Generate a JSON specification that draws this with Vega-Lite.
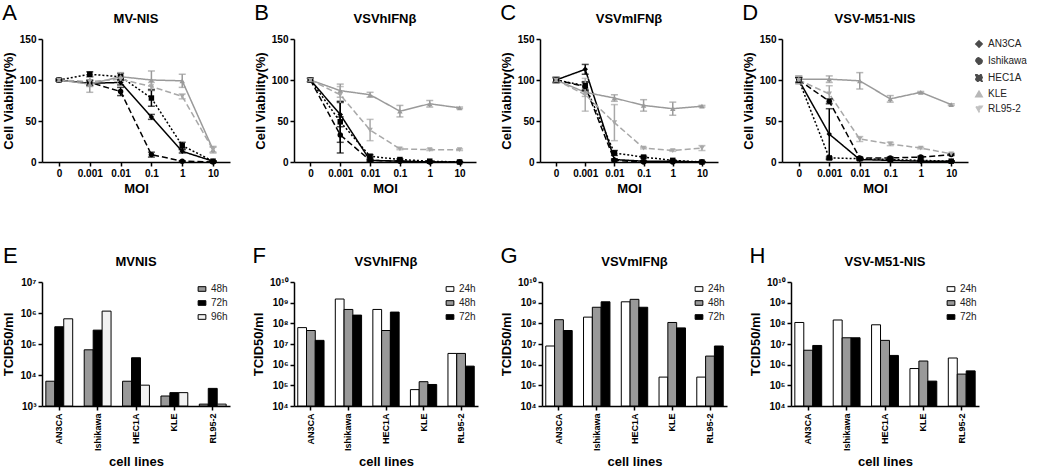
{
  "$schema": "https://vega.github.io/schema/vega-lite/v6.json",
  "background": "white",
  "padding": {"left": 2, "top": 2, "right": 0, "bottom": 0},
  "config": {
    "font": "Liberation Sans",
    "view": {"stroke": null},
    "axis": {"grid": false, "domainColor": "black", "tickColor": "black", "labelColor": "black", "titleColor": "black", "domainWidth": 1.5, "tickWidth": 1.5, "tickSize": 4, "labelFontWeight": "bold", "labelFontSize": 10, "titleFontWeight": "bold", "titleFontSize": 13},
    "title": {"fontSize": 13, "fontWeight": "bold", "color": "black", "offset": 8},
    "legend": {"labelFontSize": 10, "labelColor": "#222"}
  },
  "datasets": {
    "mvnis": [
      {"moi": "0", "line": "AN3CA", "v": 100, "e": 1}, {"moi": "0.001", "line": "AN3CA", "v": 96, "e": 3}, {"moi": "0.01", "line": "AN3CA", "v": 97, "e": 3}, {"moi": "0.1", "line": "AN3CA", "v": 55, "e": 3}, {"moi": "1", "line": "AN3CA", "v": 13, "e": 2}, {"moi": "10", "line": "AN3CA", "v": 1, "e": 0.5},
      {"moi": "0", "line": "Ishikawa", "v": 100, "e": 1}, {"moi": "0.001", "line": "Ishikawa", "v": 97, "e": 3}, {"moi": "0.01", "line": "Ishikawa", "v": 86, "e": 5}, {"moi": "0.1", "line": "Ishikawa", "v": 9, "e": 3}, {"moi": "1", "line": "Ishikawa", "v": 1, "e": 0.5}, {"moi": "10", "line": "Ishikawa", "v": 0, "e": 0.5},
      {"moi": "0", "line": "HEC1A", "v": 100, "e": 1}, {"moi": "0.001", "line": "HEC1A", "v": 107, "e": 3}, {"moi": "0.01", "line": "HEC1A", "v": 104, "e": 4}, {"moi": "0.1", "line": "HEC1A", "v": 78, "e": 10}, {"moi": "1", "line": "HEC1A", "v": 20, "e": 4}, {"moi": "10", "line": "HEC1A", "v": 1, "e": 0.5},
      {"moi": "0", "line": "KLE", "v": 100, "e": 1}, {"moi": "0.001", "line": "KLE", "v": 95, "e": 10}, {"moi": "0.01", "line": "KLE", "v": 104, "e": 5}, {"moi": "0.1", "line": "KLE", "v": 100, "e": 11}, {"moi": "1", "line": "KLE", "v": 99, "e": 8}, {"moi": "10", "line": "KLE", "v": 15, "e": 4},
      {"moi": "0", "line": "RL95-2", "v": 100, "e": 1}, {"moi": "0.001", "line": "RL95-2", "v": 98, "e": 6}, {"moi": "0.01", "line": "RL95-2", "v": 101, "e": 4}, {"moi": "0.1", "line": "RL95-2", "v": 92, "e": 5}, {"moi": "1", "line": "RL95-2", "v": 80, "e": 3}, {"moi": "10", "line": "RL95-2", "v": 15, "e": 3}
    ],
    "vsvh": [
      {"moi": "0", "line": "AN3CA", "v": 100, "e": 2}, {"moi": "0.001", "line": "AN3CA", "v": 58, "e": 15}, {"moi": "0.01", "line": "AN3CA", "v": 2, "e": 1}, {"moi": "0.1", "line": "AN3CA", "v": 1, "e": 0.5}, {"moi": "1", "line": "AN3CA", "v": 0, "e": 0.5}, {"moi": "10", "line": "AN3CA", "v": 0, "e": 0.5},
      {"moi": "0", "line": "Ishikawa", "v": 100, "e": 2}, {"moi": "0.001", "line": "Ishikawa", "v": 33, "e": 22}, {"moi": "0.01", "line": "Ishikawa", "v": 2, "e": 1}, {"moi": "0.1", "line": "Ishikawa", "v": 1, "e": 0.5}, {"moi": "1", "line": "Ishikawa", "v": 0, "e": 0.5}, {"moi": "10", "line": "Ishikawa", "v": 0, "e": 0.5},
      {"moi": "0", "line": "HEC1A", "v": 100, "e": 2}, {"moi": "0.001", "line": "HEC1A", "v": 49, "e": 25}, {"moi": "0.01", "line": "HEC1A", "v": 7, "e": 2}, {"moi": "0.1", "line": "HEC1A", "v": 3, "e": 1}, {"moi": "1", "line": "HEC1A", "v": 1, "e": 0.5}, {"moi": "10", "line": "HEC1A", "v": 0, "e": 0.5},
      {"moi": "0", "line": "KLE", "v": 100, "e": 2}, {"moi": "0.001", "line": "KLE", "v": 87, "e": 8}, {"moi": "0.01", "line": "KLE", "v": 82, "e": 3}, {"moi": "0.1", "line": "KLE", "v": 62, "e": 7}, {"moi": "1", "line": "KLE", "v": 71, "e": 4}, {"moi": "10", "line": "KLE", "v": 66, "e": 1},
      {"moi": "0", "line": "RL95-2", "v": 100, "e": 2}, {"moi": "0.001", "line": "RL95-2", "v": 82, "e": 10}, {"moi": "0.01", "line": "RL95-2", "v": 39, "e": 13}, {"moi": "0.1", "line": "RL95-2", "v": 16, "e": 1}, {"moi": "1", "line": "RL95-2", "v": 15, "e": 1}, {"moi": "10", "line": "RL95-2", "v": 15, "e": 1}
    ],
    "vsvm": [
      {"moi": "0", "line": "AN3CA", "v": 100, "e": 3}, {"moi": "0.001", "line": "AN3CA", "v": 113, "e": 6}, {"moi": "0.01", "line": "AN3CA", "v": 3, "e": 1}, {"moi": "0.1", "line": "AN3CA", "v": 1, "e": 0.5}, {"moi": "1", "line": "AN3CA", "v": 1, "e": 0.5}, {"moi": "10", "line": "AN3CA", "v": 0, "e": 0.5},
      {"moi": "0", "line": "Ishikawa", "v": 100, "e": 3}, {"moi": "0.001", "line": "Ishikawa", "v": 92, "e": 5}, {"moi": "0.01", "line": "Ishikawa", "v": 2, "e": 1}, {"moi": "0.1", "line": "Ishikawa", "v": 0, "e": 0.5}, {"moi": "1", "line": "Ishikawa", "v": 0, "e": 0.5}, {"moi": "10", "line": "Ishikawa", "v": 0, "e": 0.5},
      {"moi": "0", "line": "HEC1A", "v": 100, "e": 3}, {"moi": "0.001", "line": "HEC1A", "v": 93, "e": 5}, {"moi": "0.01", "line": "HEC1A", "v": 11, "e": 3}, {"moi": "0.1", "line": "HEC1A", "v": 6, "e": 1}, {"moi": "1", "line": "HEC1A", "v": 2, "e": 0.5}, {"moi": "10", "line": "HEC1A", "v": 0, "e": 0.5},
      {"moi": "0", "line": "KLE", "v": 100, "e": 3}, {"moi": "0.001", "line": "KLE", "v": 85, "e": 5}, {"moi": "0.01", "line": "KLE", "v": 78, "e": 4}, {"moi": "0.1", "line": "KLE", "v": 69, "e": 7}, {"moi": "1", "line": "KLE", "v": 65, "e": 8}, {"moi": "10", "line": "KLE", "v": 68, "e": 1},
      {"moi": "0", "line": "RL95-2", "v": 100, "e": 3}, {"moi": "0.001", "line": "RL95-2", "v": 82, "e": 20}, {"moi": "0.01", "line": "RL95-2", "v": 48, "e": 22}, {"moi": "0.1", "line": "RL95-2", "v": 17, "e": 1}, {"moi": "1", "line": "RL95-2", "v": 14, "e": 1}, {"moi": "10", "line": "RL95-2", "v": 17, "e": 3}
    ],
    "vsvm51": [
      {"moi": "0", "line": "AN3CA", "v": 100, "e": 3}, {"moi": "0.001", "line": "AN3CA", "v": 34, "e": 31}, {"moi": "0.01", "line": "AN3CA", "v": 3, "e": 1}, {"moi": "0.1", "line": "AN3CA", "v": 2, "e": 0.5}, {"moi": "1", "line": "AN3CA", "v": 1, "e": 0.5}, {"moi": "10", "line": "AN3CA", "v": 1, "e": 0.5},
      {"moi": "0", "line": "Ishikawa", "v": 100, "e": 3}, {"moi": "0.001", "line": "Ishikawa", "v": 74, "e": 3}, {"moi": "0.01", "line": "Ishikawa", "v": 5, "e": 1}, {"moi": "0.1", "line": "Ishikawa", "v": 5, "e": 1}, {"moi": "1", "line": "Ishikawa", "v": 6, "e": 1}, {"moi": "10", "line": "Ishikawa", "v": 9, "e": 1},
      {"moi": "0", "line": "HEC1A", "v": 100, "e": 3}, {"moi": "0.001", "line": "HEC1A", "v": 5, "e": 1}, {"moi": "0.01", "line": "HEC1A", "v": 4, "e": 1}, {"moi": "0.1", "line": "HEC1A", "v": 3, "e": 0.5}, {"moi": "1", "line": "HEC1A", "v": 2, "e": 0.5}, {"moi": "10", "line": "HEC1A", "v": 1, "e": 0.5},
      {"moi": "0", "line": "KLE", "v": 101, "e": 4}, {"moi": "0.001", "line": "KLE", "v": 101, "e": 4}, {"moi": "0.01", "line": "KLE", "v": 99, "e": 10}, {"moi": "0.1", "line": "KLE", "v": 77, "e": 4}, {"moi": "1", "line": "KLE", "v": 85, "e": 1}, {"moi": "10", "line": "KLE", "v": 70, "e": 1},
      {"moi": "0", "line": "RL95-2", "v": 100, "e": 5}, {"moi": "0.001", "line": "RL95-2", "v": 83, "e": 10}, {"moi": "0.01", "line": "RL95-2", "v": 28, "e": 3}, {"moi": "0.1", "line": "RL95-2", "v": 22, "e": 2}, {"moi": "1", "line": "RL95-2", "v": 17, "e": 1}, {"moi": "10", "line": "RL95-2", "v": 10, "e": 1}
    ],
    "e": [
      {"cell": "AN3CA", "t": "48h", "v": 6300}, {"cell": "AN3CA", "t": "72h", "v": 360000}, {"cell": "AN3CA", "t": "96h", "v": 650000},
      {"cell": "Ishikawa", "t": "48h", "v": 65000}, {"cell": "Ishikawa", "t": "72h", "v": 280000}, {"cell": "Ishikawa", "t": "96h", "v": 1150000},
      {"cell": "HEC1A", "t": "48h", "v": 6300}, {"cell": "HEC1A", "t": "72h", "v": 36000}, {"cell": "HEC1A", "t": "96h", "v": 4700},
      {"cell": "KLE", "t": "48h", "v": 2100}, {"cell": "KLE", "t": "72h", "v": 2700}, {"cell": "KLE", "t": "96h", "v": 2700},
      {"cell": "RL95-2", "t": "48h", "v": 1150}, {"cell": "RL95-2", "t": "72h", "v": 3700}, {"cell": "RL95-2", "t": "96h", "v": 1150}
    ],
    "f": [
      {"cell": "AN3CA", "t": "24h", "v": 62000000}, {"cell": "AN3CA", "t": "48h", "v": 45000000}, {"cell": "AN3CA", "t": "72h", "v": 15000000},
      {"cell": "Ishikawa", "t": "24h", "v": 1500000000}, {"cell": "Ishikawa", "t": "48h", "v": 470000000}, {"cell": "Ishikawa", "t": "72h", "v": 250000000},
      {"cell": "HEC1A", "t": "24h", "v": 470000000}, {"cell": "HEC1A", "t": "48h", "v": 45000000}, {"cell": "HEC1A", "t": "72h", "v": 350000000},
      {"cell": "KLE", "t": "24h", "v": 62000}, {"cell": "KLE", "t": "48h", "v": 150000}, {"cell": "KLE", "t": "72h", "v": 110000},
      {"cell": "RL95-2", "t": "24h", "v": 3500000}, {"cell": "RL95-2", "t": "48h", "v": 3500000}, {"cell": "RL95-2", "t": "72h", "v": 850000}
    ],
    "g": [
      {"cell": "AN3CA", "t": "24h", "v": 8000000}, {"cell": "AN3CA", "t": "48h", "v": 150000000}, {"cell": "AN3CA", "t": "72h", "v": 45000000},
      {"cell": "Ishikawa", "t": "24h", "v": 200000000}, {"cell": "Ishikawa", "t": "48h", "v": 600000000}, {"cell": "Ishikawa", "t": "72h", "v": 1100000000},
      {"cell": "HEC1A", "t": "24h", "v": 1100000000}, {"cell": "HEC1A", "t": "48h", "v": 1450000000}, {"cell": "HEC1A", "t": "72h", "v": 600000000},
      {"cell": "KLE", "t": "24h", "v": 250000}, {"cell": "KLE", "t": "48h", "v": 110000000}, {"cell": "KLE", "t": "72h", "v": 60000000},
      {"cell": "RL95-2", "t": "24h", "v": 250000}, {"cell": "RL95-2", "t": "48h", "v": 2600000}, {"cell": "RL95-2", "t": "72h", "v": 8000000}
    ],
    "h": [
      {"cell": "AN3CA", "t": "24h", "v": 110000000}, {"cell": "AN3CA", "t": "48h", "v": 5000000}, {"cell": "AN3CA", "t": "72h", "v": 8500000},
      {"cell": "Ishikawa", "t": "24h", "v": 145000000}, {"cell": "Ishikawa", "t": "48h", "v": 20000000}, {"cell": "Ishikawa", "t": "72h", "v": 20000000},
      {"cell": "HEC1A", "t": "24h", "v": 85000000}, {"cell": "HEC1A", "t": "48h", "v": 15000000}, {"cell": "HEC1A", "t": "72h", "v": 2800000},
      {"cell": "KLE", "t": "24h", "v": 650000}, {"cell": "KLE", "t": "48h", "v": 1500000}, {"cell": "KLE", "t": "72h", "v": 160000},
      {"cell": "RL95-2", "t": "24h", "v": 2100000}, {"cell": "RL95-2", "t": "48h", "v": 350000}, {"cell": "RL95-2", "t": "72h", "v": 500000}
    ]
  },
  "resolve": {"scale": {"color": "independent", "shape": "independent", "strokeDash": "independent", "fill": "independent", "xOffset": "independent"}},
  "spacing": 50,
  "vconcat": [
    {
      "resolve": {"scale": {"color": "independent", "shape": "independent", "strokeDash": "independent", "fill": "independent", "xOffset": "independent"}},
      "spacing": 24,
      "hconcat": [
        {
          "title": {"text": "A", "anchor": "start", "fontSize": 22, "fontWeight": "normal", "offset": -12},
          "resolve": {"scale": {"color": "independent", "shape": "independent", "strokeDash": "independent"}},
          "hconcat": [
            {
              "title": {"text": "MV-NIS"},
              "width": 188, "height": 123,
              "data": {"name": "mvnis"},
              "encoding": {
                "x": {"field": "moi", "type": "ordinal", "sort": ["0", "0.001", "0.01", "0.1", "1", "10"], "scale": {"type": "point", "padding": 0.55}, "axis": {"title": "MOI", "labelAngle": 0, "titlePadding": 4}},
                "y": {"field": "v", "type": "quantitative", "scale": {"domain": [0, 150], "nice": false}, "axis": {"title": "Cell Viability(%)", "values": [0, 50, 100, 150]}},
                "color": {"field": "line", "type": "nominal", "scale": {"domain": ["AN3CA", "Ishikawa", "HEC1A", "KLE", "RL95-2"], "range": ["#000000", "#000000", "#000000", "#9a9a9a", "#a8a8a8"]}, "legend": null}
              },
              "layer": [
                {"mark": {"type": "line", "strokeWidth": 1.5}, "encoding": {"strokeDash": {"field": "line", "type": "nominal", "scale": {"domain": ["AN3CA", "Ishikawa", "HEC1A", "KLE", "RL95-2"], "range": [[1, 0], [6, 3], [2, 2], [1, 0], [6, 3]]}, "legend": null}}},
                {"mark": {"type": "errorbar", "ticks": {"size": 7}, "thickness": 1.5}, "encoding": {"yError": {"field": "e"}}},
                {"mark": {"type": "point", "filled": true, "size": 30, "opacity": 1}, "encoding": {"shape": {"field": "line", "type": "nominal", "scale": {"domain": ["AN3CA", "Ishikawa", "HEC1A", "KLE", "RL95-2"], "range": ["diamond", "circle", "square", "triangle-up", "triangle-down"]}, "legend": null}}}
              ]
            }
          ]
        },
        {
          "title": {"text": "B", "anchor": "start", "fontSize": 22, "fontWeight": "normal", "offset": -12},
          "resolve": {"scale": {"color": "independent", "shape": "independent", "strokeDash": "independent"}},
          "hconcat": [
            {
              "title": {"text": "VSVhIFNβ"},
              "width": 182, "height": 123,
              "data": {"name": "vsvh"},
              "encoding": {
                "x": {"field": "moi", "type": "ordinal", "sort": ["0", "0.001", "0.01", "0.1", "1", "10"], "scale": {"type": "point", "padding": 0.55}, "axis": {"title": "MOI", "labelAngle": 0, "titlePadding": 4}},
                "y": {"field": "v", "type": "quantitative", "scale": {"domain": [0, 150], "nice": false}, "axis": {"title": "Cell Viability(%)", "values": [0, 50, 100, 150]}},
                "color": {"field": "line", "type": "nominal", "scale": {"domain": ["AN3CA", "Ishikawa", "HEC1A", "KLE", "RL95-2"], "range": ["#000000", "#000000", "#000000", "#9a9a9a", "#a8a8a8"]}, "legend": null}
              },
              "layer": [
                {"mark": {"type": "line", "strokeWidth": 1.5}, "encoding": {"strokeDash": {"field": "line", "type": "nominal", "scale": {"domain": ["AN3CA", "Ishikawa", "HEC1A", "KLE", "RL95-2"], "range": [[1, 0], [6, 3], [2, 2], [1, 0], [6, 3]]}, "legend": null}}},
                {"mark": {"type": "errorbar", "ticks": {"size": 7}, "thickness": 1.5}, "encoding": {"yError": {"field": "e"}}},
                {"mark": {"type": "point", "filled": true, "size": 30, "opacity": 1}, "encoding": {"shape": {"field": "line", "type": "nominal", "scale": {"domain": ["AN3CA", "Ishikawa", "HEC1A", "KLE", "RL95-2"], "range": ["diamond", "circle", "square", "triangle-up", "triangle-down"]}, "legend": null}}}
              ]
            }
          ]
        },
        {
          "title": {"text": "C", "anchor": "start", "fontSize": 22, "fontWeight": "normal", "offset": -12},
          "resolve": {"scale": {"color": "independent", "shape": "independent", "strokeDash": "independent"}},
          "hconcat": [
            {
              "title": {"text": "VSVmIFNβ"},
              "width": 178, "height": 123,
              "data": {"name": "vsvm"},
              "encoding": {
                "x": {"field": "moi", "type": "ordinal", "sort": ["0", "0.001", "0.01", "0.1", "1", "10"], "scale": {"type": "point", "padding": 0.55}, "axis": {"title": "MOI", "labelAngle": 0, "titlePadding": 4}},
                "y": {"field": "v", "type": "quantitative", "scale": {"domain": [0, 150], "nice": false}, "axis": {"title": "Cell Viability(%)", "values": [0, 50, 100, 150]}},
                "color": {"field": "line", "type": "nominal", "scale": {"domain": ["AN3CA", "Ishikawa", "HEC1A", "KLE", "RL95-2"], "range": ["#000000", "#000000", "#000000", "#9a9a9a", "#a8a8a8"]}, "legend": null}
              },
              "layer": [
                {"mark": {"type": "line", "strokeWidth": 1.5}, "encoding": {"strokeDash": {"field": "line", "type": "nominal", "scale": {"domain": ["AN3CA", "Ishikawa", "HEC1A", "KLE", "RL95-2"], "range": [[1, 0], [6, 3], [2, 2], [1, 0], [6, 3]]}, "legend": null}}},
                {"mark": {"type": "errorbar", "ticks": {"size": 7}, "thickness": 1.5}, "encoding": {"yError": {"field": "e"}}},
                {"mark": {"type": "point", "filled": true, "size": 30, "opacity": 1}, "encoding": {"shape": {"field": "line", "type": "nominal", "scale": {"domain": ["AN3CA", "Ishikawa", "HEC1A", "KLE", "RL95-2"], "range": ["diamond", "circle", "square", "triangle-up", "triangle-down"]}, "legend": null}}}
              ]
            }
          ]
        },
        {
          "title": {"text": "D", "anchor": "start", "fontSize": 22, "fontWeight": "normal", "offset": -12},
          "resolve": {"scale": {"color": "independent", "shape": "independent", "strokeDash": "independent"}},
          "hconcat": [
            {
              "title": {"text": "VSV-M51-NIS"},
              "width": 186, "height": 123,
              "data": {"name": "vsvm51"},
              "encoding": {
                "x": {"field": "moi", "type": "ordinal", "sort": ["0", "0.001", "0.01", "0.1", "1", "10"], "scale": {"type": "point", "padding": 0.55}, "axis": {"title": "MOI", "labelAngle": 0, "titlePadding": 4}},
                "y": {"field": "v", "type": "quantitative", "scale": {"domain": [0, 150], "nice": false}, "axis": {"title": "Cell Viability(%)", "values": [0, 50, 100, 150]}},
                "color": {"field": "line", "type": "nominal", "scale": {"domain": ["AN3CA", "Ishikawa", "HEC1A", "KLE", "RL95-2"], "range": ["#000000", "#000000", "#000000", "#9a9a9a", "#a8a8a8"]}, "legend": {"title": null, "orient": "right", "offset": 6, "symbolSize": 40, "rowPadding": 3, "labelFontSize": 10}}
              },
              "layer": [
                {"mark": {"type": "line", "strokeWidth": 1.5}, "encoding": {"strokeDash": {"field": "line", "type": "nominal", "scale": {"domain": ["AN3CA", "Ishikawa", "HEC1A", "KLE", "RL95-2"], "range": [[1, 0], [6, 3], [2, 2], [1, 0], [6, 3]]}, "legend": null}}},
                {"mark": {"type": "errorbar", "ticks": {"size": 7}, "thickness": 1.5}, "encoding": {"yError": {"field": "e"}}},
                {"mark": {"type": "point", "filled": true, "size": 30, "opacity": 1}, "encoding": {"shape": {"field": "line", "type": "nominal", "scale": {"domain": ["AN3CA", "Ishikawa", "HEC1A", "KLE", "RL95-2"], "range": ["diamond", "circle", "square", "triangle-up", "triangle-down"]}, "legend": {"title": null, "orient": "right", "offset": 6, "symbolSize": 40, "rowPadding": 3, "labelFontSize": 10}}}}
              ]
            }
          ]
        }
      ]
    },
    {
      "resolve": {"scale": {"fill": "independent", "xOffset": "independent"}},
      "spacing": 22,
      "hconcat": [
        {
          "title": {"text": "E", "anchor": "start", "fontSize": 22, "fontWeight": "normal", "offset": -12},
          "resolve": {"scale": {"fill": "independent", "xOffset": "independent"}},
          "hconcat": [
            {
              "title": {"text": "MVNIS"},
              "width": 188, "height": 124,
              "data": {"name": "e"},
              "mark": {"type": "bar", "stroke": "black", "strokeWidth": 1},
              "encoding": {
                "x": {"field": "cell", "type": "nominal", "sort": ["AN3CA", "Ishikawa", "HEC1A", "KLE", "RL95-2"], "scale": {"paddingInner": 0.3, "paddingOuter": 0.1}, "axis": {"title": "cell lines", "labelAngle": -90, "labelPadding": 3, "labelFontSize": 9, "titlePadding": 5}},
                "xOffset": {"field": "t", "type": "nominal", "sort": ["48h", "72h", "96h"]},
                "y": {"field": "v", "type": "quantitative", "scale": {"type": "log", "domain": [1000, 10000000], "nice": false}, "axis": {"title": "TCID50/ml", "values": [1000, 10000, 100000, 1000000, 10000000], "labelExpr": "'10' + ['⁰','¹','²','³','⁴','⁵','⁶','⁷','⁸','⁹','¹⁰'][round(log(datum.value)/LN10)]"}},
                "y2": {"datum": 1000},
                "fill": {"field": "t", "type": "nominal", "scale": {"domain": ["48h", "72h", "96h"], "range": ["#999999", "#000000", "#f2f2f2"]}, "legend": {"title": null, "orient": "top-right", "offset": 2, "symbolType": "M-1,-0.6H1V0.6H-1Z", "symbolSize": 60, "symbolStrokeColor": "black", "symbolStrokeWidth": 1, "rowPadding": 4, "labelFontSize": 10}}
              }
            }
          ]
        },
        {
          "title": {"text": "F", "anchor": "start", "fontSize": 22, "fontWeight": "normal", "offset": -12},
          "resolve": {"scale": {"fill": "independent", "xOffset": "independent"}},
          "hconcat": [
            {
              "title": {"text": "VSVhIFNβ"},
              "width": 184, "height": 124,
              "data": {"name": "f"},
              "mark": {"type": "bar", "stroke": "black", "strokeWidth": 1},
              "encoding": {
                "x": {"field": "cell", "type": "nominal", "sort": ["AN3CA", "Ishikawa", "HEC1A", "KLE", "RL95-2"], "scale": {"paddingInner": 0.3, "paddingOuter": 0.1}, "axis": {"title": "cell lines", "labelAngle": -90, "labelPadding": 3, "labelFontSize": 9, "titlePadding": 5}},
                "xOffset": {"field": "t", "type": "nominal", "sort": ["24h", "48h", "72h"]},
                "y": {"field": "v", "type": "quantitative", "scale": {"type": "log", "domain": [10000, 10000000000], "nice": false}, "axis": {"title": "TCID50/ml", "values": [10000, 100000, 1000000, 10000000, 100000000, 1000000000, 10000000000], "labelExpr": "'10' + ['⁰','¹','²','³','⁴','⁵','⁶','⁷','⁸','⁹','¹⁰'][round(log(datum.value)/LN10)]"}},
                "y2": {"datum": 10000},
                "fill": {"field": "t", "type": "nominal", "scale": {"domain": ["24h", "48h", "72h"], "range": ["#ffffff", "#999999", "#000000"]}, "legend": {"title": null, "orient": "top-right", "offset": 2, "symbolType": "M-1,-0.6H1V0.6H-1Z", "symbolSize": 60, "symbolStrokeColor": "black", "symbolStrokeWidth": 1, "rowPadding": 4, "labelFontSize": 10}}
              }
            }
          ]
        },
        {
          "title": {"text": "G", "anchor": "start", "fontSize": 22, "fontWeight": "normal", "offset": -12},
          "resolve": {"scale": {"fill": "independent", "xOffset": "independent"}},
          "hconcat": [
            {
              "title": {"text": "VSVmIFNβ"},
              "width": 185, "height": 124,
              "data": {"name": "g"},
              "mark": {"type": "bar", "stroke": "black", "strokeWidth": 1},
              "encoding": {
                "x": {"field": "cell", "type": "nominal", "sort": ["AN3CA", "Ishikawa", "HEC1A", "KLE", "RL95-2"], "scale": {"paddingInner": 0.3, "paddingOuter": 0.1}, "axis": {"title": "cell lines", "labelAngle": -90, "labelPadding": 3, "labelFontSize": 9, "titlePadding": 5}},
                "xOffset": {"field": "t", "type": "nominal", "sort": ["24h", "48h", "72h"]},
                "y": {"field": "v", "type": "quantitative", "scale": {"type": "log", "domain": [10000, 10000000000], "nice": false}, "axis": {"title": "TCID50/ml", "values": [10000, 100000, 1000000, 10000000, 100000000, 1000000000, 10000000000], "labelExpr": "'10' + ['⁰','¹','²','³','⁴','⁵','⁶','⁷','⁸','⁹','¹⁰'][round(log(datum.value)/LN10)]"}},
                "y2": {"datum": 10000},
                "fill": {"field": "t", "type": "nominal", "scale": {"domain": ["24h", "48h", "72h"], "range": ["#ffffff", "#999999", "#000000"]}, "legend": {"title": null, "orient": "top-right", "offset": 2, "symbolType": "M-1,-0.6H1V0.6H-1Z", "symbolSize": 60, "symbolStrokeColor": "black", "symbolStrokeWidth": 1, "rowPadding": 4, "labelFontSize": 10}}
              }
            }
          ]
        },
        {
          "title": {"text": "H", "anchor": "start", "fontSize": 22, "fontWeight": "normal", "offset": -12},
          "resolve": {"scale": {"fill": "independent", "xOffset": "independent"}},
          "hconcat": [
            {
              "title": {"text": "VSV-M51-NIS"},
              "width": 188, "height": 124,
              "data": {"name": "h"},
              "mark": {"type": "bar", "stroke": "black", "strokeWidth": 1},
              "encoding": {
                "x": {"field": "cell", "type": "nominal", "sort": ["AN3CA", "Ishikawa", "HEC1A", "KLE", "RL95-2"], "scale": {"paddingInner": 0.3, "paddingOuter": 0.1}, "axis": {"title": "cell lines", "labelAngle": -90, "labelPadding": 3, "labelFontSize": 9, "titlePadding": 5}},
                "xOffset": {"field": "t", "type": "nominal", "sort": ["24h", "48h", "72h"]},
                "y": {"field": "v", "type": "quantitative", "scale": {"type": "log", "domain": [10000, 10000000000], "nice": false}, "axis": {"title": "TCID50/ml", "values": [10000, 100000, 1000000, 10000000, 100000000, 1000000000, 10000000000], "labelExpr": "'10' + ['⁰','¹','²','³','⁴','⁵','⁶','⁷','⁸','⁹','¹⁰'][round(log(datum.value)/LN10)]"}},
                "y2": {"datum": 10000},
                "fill": {"field": "t", "type": "nominal", "scale": {"domain": ["24h", "48h", "72h"], "range": ["#ffffff", "#999999", "#000000"]}, "legend": {"title": null, "orient": "top-right", "offset": 2, "symbolType": "M-1,-0.6H1V0.6H-1Z", "symbolSize": 60, "symbolStrokeColor": "black", "symbolStrokeWidth": 1, "rowPadding": 4, "labelFontSize": 10}}
              }
            }
          ]
        }
      ]
    }
  ]
}
